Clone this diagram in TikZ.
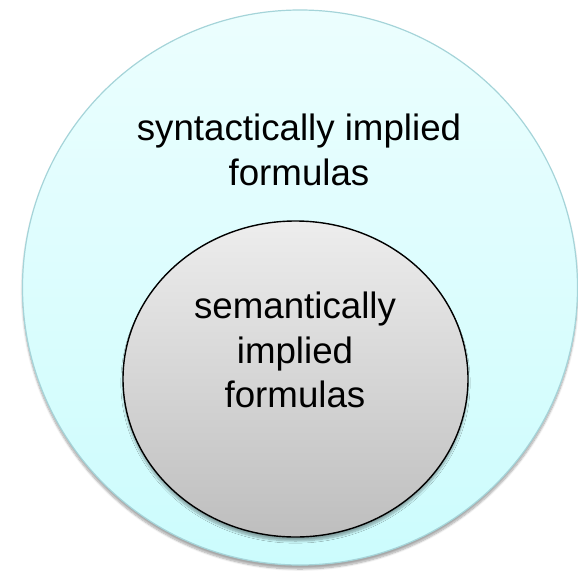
\documentclass[tikz,border=0pt]{standalone}
\usepackage{fontspec}
\setmainfont{Liberation Sans}
\usetikzlibrary{shapes.geometric, shadows.blur, positioning}
\definecolor{syntop}{RGB}{236,254,254}
\definecolor{synbot}{RGB}{204,252,253}
\definecolor{synedge}{RGB}{165,212,217}
\definecolor{semtop}{RGB}{237,237,237}
\definecolor{sembot}{RGB}{190,190,190}
\tikzset{
  setnode/.style={
    inner sep=0pt,
    blur shadow={shadow xshift=0pt, shadow yshift=-4pt,
      shadow blur steps=8, shadow opacity=35}
  },
  synset/.style={setnode, circle, minimum size=555pt,
    top color=syntop, bottom color=synbot,
    draw=synedge, line width=1.2pt},
  semset/.style={setnode, ellipse, minimum width=345pt, minimum height=316pt,
    top color=semtop, bottom color=sembot,
    draw=black, line width=1.4pt},
  setlabel/.style={inner sep=0pt, align=center, text=black,
    font=\fontsize{36.7}{44.5}\selectfont}
}
\begin{document}
\begin{tikzpicture}[x=1pt, y=-1pt]
  \useasboundingbox (0,0) rectangle (578,571);

  % Outer set
  \node[synset] (syn) at (300,287.5) {};
  \node[setlabel, anchor=north] (syntext) at (299,114)
    {syntactically implied\\formulas};

  % Inner set
  \node[semset] (sem) at (295.5,379) {};
  \node[setlabel, anchor=north] (semtext) at (295,292)
    {semantically\\implied\\formulas};

\end{tikzpicture}
\end{document}
